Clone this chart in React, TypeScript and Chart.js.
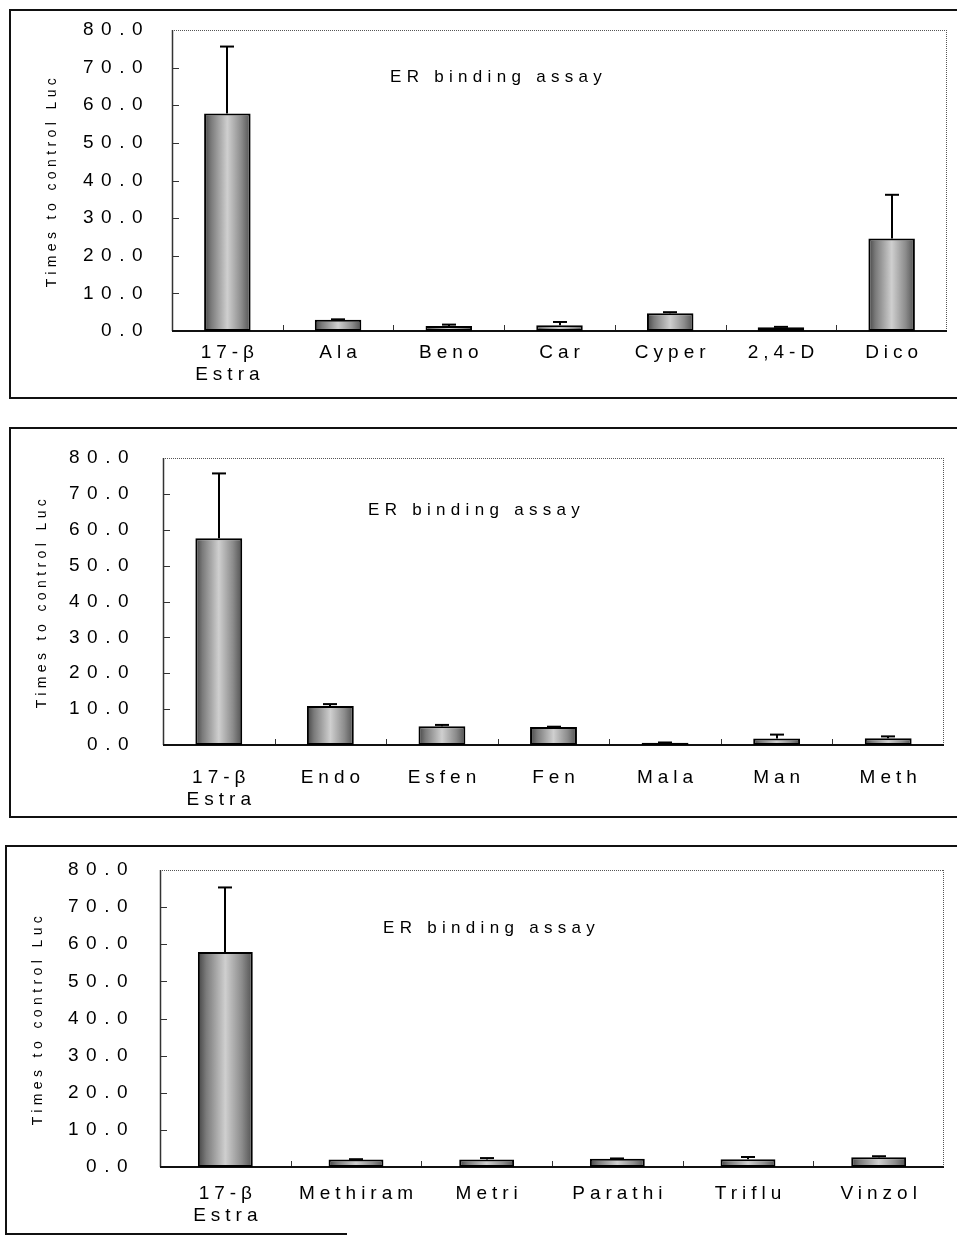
import React, { useEffect, useRef } from 'react';
import { Chart, registerables } from 'chart.js';

Chart.register(...registerables);

// ---------- data ----------
const yTickValues = [0, 10, 20, 30, 40, 50, 60, 70, 80];
const yAxisTitle = 'Times to control Luc';
const insetTitle = 'ER binding assay';

const panel1Labels = [['17-β', 'Estra'], 'Ala', 'Beno', 'Car', 'Cyper', '2,4-D', 'Dico'];
const panel1Values = [57.8, 3.0, 1.3, 1.5, 4.7, 1.0, 24.6];
const panel1Errors = [17.8, 0.1, 0.4, 0.9, 0.3, 0.1, 11.6];

const panel2Labels = [['17-β', 'Estra'], 'Endo', 'Esfen', 'Fen', 'Mala', 'Man', 'Meth'];
const panel2Values = [57.6, 10.9, 5.2, 5.0, 0.6, 1.8, 1.9];
const panel2Errors = [18.1, 0.5, 0.4, 0.1, 0.1, 1.1, 0.5];

const panel3Labels = [['17-β', 'Estra'], 'Methiram', 'Metri', 'Parathi', 'Triflu', 'Vinzol'];
const panel3Values = [57.9, 2.0, 2.0, 2.2, 2.1, 2.6];
const panel3Errors = [17.4, 0.1, 0.4, 0.1, 0.6, 0.3];

// ---------- layout / style ----------
const FONT = '"Liberation Sans", Arial, sans-serif';
const BAR_FRACTION = 0.42;

type PanelCfg = {
  labels: any[];
  values: number[];
  errors: number[];
  box: { left: number; top: number; height: number; bottomLine?: number };
  canvas: { left: number; top: number; width: number; height: number };
  yWidth: number;
  xHeight: number;
  padTop: number;
  padRight: number;
  yTickPad: number;
  yTitlePad: number;
  xTickPad: number;
  titleDx: number;
  titleDy: number;
};

const panels: PanelCfg[] = [
  {
    labels: panel1Labels, values: panel1Values, errors: panel1Errors,
    box: { left: 9, top: 9, height: 390 },
    canvas: { left: 11, top: 11, width: 946, height: 386 },
    yWidth: 161, xHeight: 66, padTop: 19, padRight: 10,
    yTickPad: 22, yTitlePad: 33, xTickPad: 10, titleDx: 218, titleDy: 47,
  },
  {
    labels: panel2Labels, values: panel2Values, errors: panel2Errors,
    box: { left: 9, top: 427, height: 391 },
    canvas: { left: 11, top: 429, width: 946, height: 387 },
    yWidth: 152, xHeight: 71, padTop: 29, padRight: 13,
    yTickPad: 27, yTitlePad: 23, xTickPad: 21, titleDx: 205, titleDy: 52,
  },
  {
    labels: panel3Labels, values: panel3Values, errors: panel3Errors,
    box: { left: 5, top: 845, height: 390, bottomLine: 342 },
    canvas: { left: 7, top: 847, width: 950, height: 386 },
    yWidth: 153, xHeight: 66, padTop: 23, padRight: 13,
    yTickPad: 25, yTitlePad: 23, xTickPad: 15, titleDx: 223, titleDy: 58,
  },
];

function line(ctx: CanvasRenderingContext2D, x0: number, y0: number, x1: number, y1: number) {
  ctx.beginPath();
  ctx.moveTo(x0, y0);
  ctx.lineTo(x1, y1);
  ctx.stroke();
}

function makePlugin(cfg: PanelCfg) {
  return {
    id: 'decor',
    afterLayout(chart: any) {
      const ctx: any = chart.ctx;
      const ys: any = chart.scales.y;
      const xs: any = chart.scales.x;
      if (ys && !ys.__patched) {
        ys.__patched = true;
        const dl = ys.drawLabels.bind(ys);
        ys.drawLabels = (a: any) => { ctx.save(); ctx.letterSpacing = '7.5px'; dl(a); ctx.restore(); };
        const dt = ys.drawTitle.bind(ys);
        ys.drawTitle = () => { ctx.save(); ctx.letterSpacing = '4.4px'; dt(); ctx.restore(); };
      }
      if (xs && !xs.__patched) {
        xs.__patched = true;
        const dl = xs.drawLabels.bind(xs);
        xs.drawLabels = (a: any) => { ctx.save(); ctx.letterSpacing = '5px'; ctx.translate(2.5, 0); dl(a); ctx.restore(); };
      }
    },
    beforeDatasetsDraw(chart: any) {
      const ctx: CanvasRenderingContext2D = chart.ctx;
      const a = chart.chartArea;
      const xs = chart.scales.x;
      const ys = chart.scales.y;
      ctx.save();
      ctx.strokeStyle = '#555';
      ctx.lineWidth = 1;
      ctx.setLineDash([1, 1]);
      line(ctx, a.left, a.top + 0.5, a.right, a.top + 0.5);
      line(ctx, a.right - 0.5, a.top, a.right - 0.5, a.bottom);
      ctx.setLineDash([]);
      ctx.strokeStyle = '#333';
      ctx.lineWidth = 1.5;
      line(ctx, a.left + 0.5, a.top, a.left + 0.5, a.bottom);
      ctx.lineWidth = 1;
      ys.ticks.forEach((t: any) => {
        if (t.value > 0 && t.value < 80) {
          const y = Math.round(ys.getPixelForValue(t.value)) + 0.5;
          line(ctx, a.left, y, a.left + 7, y);
        }
      });
      const n = cfg.labels.length;
      for (let i = 1; i < n; i++) {
        const x = Math.round((xs.getPixelForValue(i - 1) + xs.getPixelForValue(i)) / 2) + 0.5;
        line(ctx, x, a.bottom, x, a.bottom - 6);
      }
      ctx.strokeStyle = '#111';
      ctx.lineWidth = 2;
      line(ctx, a.left, a.bottom, a.right, a.bottom);
      ctx.restore();
    },
    afterDatasetsDraw(chart: any) {
      const ctx: any = chart.ctx;
      const a = chart.chartArea;
      const xs = chart.scales.x;
      const ys = chart.scales.y;
      ctx.save();
      ctx.strokeStyle = '#000';
      ctx.lineWidth = 2;
      cfg.values.forEach((v, i) => {
        const e = cfg.errors[i];
        if (!e) return;
        const x = Math.round(xs.getPixelForValue(i));
        const y0 = ys.getPixelForValue(v);
        const y1 = ys.getPixelForValue(v + e);
        line(ctx, x, y0, x, y1);
        line(ctx, x - 7, y1, x + 7, y1);
      });
      ctx.fillStyle = '#000';
      ctx.font = `17px ${FONT}`;
      ctx.letterSpacing = '5.3px';
      ctx.textAlign = 'left';
      ctx.textBaseline = 'middle';
      ctx.fillText(insetTitle, a.left + cfg.titleDx, a.top + cfg.titleDy);
      ctx.restore();
    },
  };
}

function BarPanel({ cfg }: { cfg: PanelCfg }) {
  const ref = useRef<HTMLCanvasElement>(null);
  useEffect(() => {
    if (!ref.current) return;
    const chart = new Chart(ref.current, {
      type: 'bar',
      data: {
        labels: cfg.labels,
        datasets: [
          {
            data: cfg.values,
            backgroundColor: (c: any) => {
              const ch = c.chart;
              const xs = ch.scales && ch.scales.x;
              if (!xs || c.dataIndex === undefined) return '#999';
              const cx = xs.getPixelForValue(c.dataIndex);
              const w = (xs.width / cfg.labels.length) * BAR_FRACTION;
              if (!Number.isFinite(cx) || !Number.isFinite(w) || w <= 0) return '#999';
              const g = ch.ctx.createLinearGradient(cx - w / 2, 0, cx + w / 2, 0);
              g.addColorStop(0, '#444');
              g.addColorStop(0.15, '#7a7a7a');
              g.addColorStop(0.5, '#cfcfcf');
              g.addColorStop(0.8, '#8c8c8c');
              g.addColorStop(1, '#505050');
              return g;
            },
            borderColor: '#000',
            borderWidth: 2,
            borderSkipped: false,
            categoryPercentage: 1,
            barPercentage: BAR_FRACTION,
          },
        ],
      },
      options: {
        animation: false,
        responsive: false,
        maintainAspectRatio: false,
        events: [],
        layout: { padding: { top: cfg.padTop, right: cfg.padRight, left: 0, bottom: 0 } },
        plugins: { legend: { display: false }, tooltip: { enabled: false }, title: { display: false } },
        scales: {
          x: {
            grid: { display: false, drawTicks: false },
            border: { display: false },
            ticks: {
              color: '#000',
              font: { family: FONT, size: 19, lineHeight: 1.2 },
              padding: cfg.xTickPad,
              maxRotation: 0,
              minRotation: 0,
              autoSkip: false,
            },
            afterFit: (s: any) => {
              s.height = cfg.xHeight;
              s.paddingLeft = 0;
              s.paddingRight = 0;
              s.paddingTop = 0;
              s.paddingBottom = 0;
            },
          },
          y: {
            min: 0,
            max: 80,
            grid: { display: false, drawTicks: false },
            border: { display: false },
            afterBuildTicks: (s: any) => { s.ticks = yTickValues.map((v) => ({ value: v })); },
            ticks: {
              color: '#000',
              font: { family: FONT, size: 19 },
              padding: cfg.yTickPad,
              callback: (v: any) => Number(v).toFixed(1),
            },
            title: {
              display: true,
              text: yAxisTitle,
              color: '#000',
              font: { family: FONT, size: 14 },
              padding: { top: cfg.yTitlePad, bottom: 0 },
            },
            afterFit: (s: any) => {
              s.width = cfg.yWidth;
              s.paddingTop = 0;
              s.paddingBottom = 0;
              s.paddingLeft = 0;
              s.paddingRight = 0;
            },
          },
        },
      },
      plugins: [makePlugin(cfg)],
    } as any);
    return () => chart.destroy();
  }, [cfg]);

  const b = cfg.box;
  return (
    <>
      <div
        style={{
          position: 'absolute',
          left: b.left,
          top: b.top,
          width: 1000,
          height: b.height - 4,
          borderLeft: '2px solid #111',
          borderTop: '2px solid #111',
          borderBottom: b.bottomLine ? 'none' : '2px solid #111',
        }}
      />
      {b.bottomLine ? (
        <div
          style={{
            position: 'absolute',
            left: b.left,
            top: b.top + b.height - 2,
            width: b.bottomLine,
            height: 2,
            background: '#111',
          }}
        />
      ) : null}
      <canvas
        ref={ref}
        width={cfg.canvas.width}
        height={cfg.canvas.height}
        style={{
          position: 'absolute',
          left: cfg.canvas.left,
          top: cfg.canvas.top,
          width: cfg.canvas.width,
          height: cfg.canvas.height,
        }}
      />
    </>
  );
}

export default function App() {
  return (
    <div
      style={{
        position: 'absolute',
        left: 0,
        top: 0,
        width: 957,
        height: 1236,
        overflow: 'hidden',
        background: '#fff',
      }}
    >
      {panels.map((p, i) => (
        <BarPanel key={i} cfg={p} />
      ))}
    </div>
  );
}
